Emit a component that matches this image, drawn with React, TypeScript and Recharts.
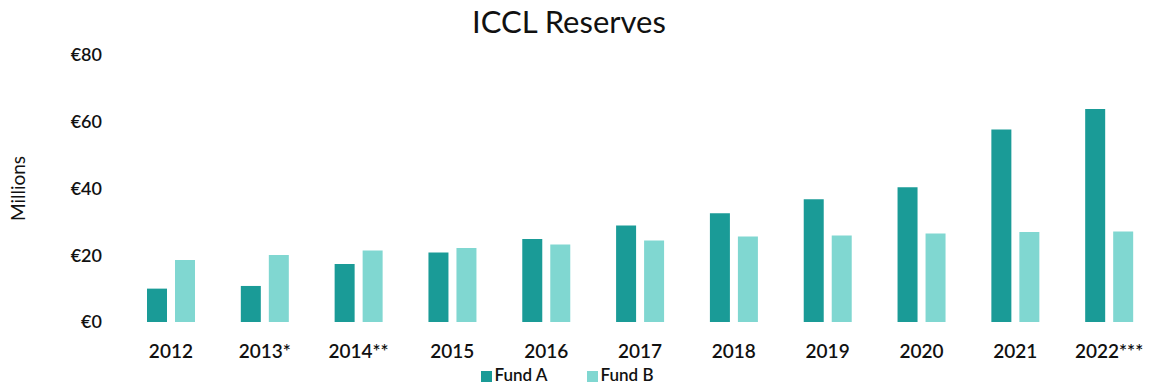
import { BarChart, Bar, XAxis, YAxis, Legend } from 'recharts';

const years = ['2012', '2013*', '2014**', '2015', '2016', '2017', '2018', '2019', '2020', '2021', '2022***'];
const fundA = [10, 10.8, 17.4, 20.8, 24.9, 28.9, 32.6, 36.8, 40.4, 57.7, 63.8];
const fundB = [18.6, 20.1, 21.4, 22.2, 23.2, 24.4, 25.6, 25.9, 26.5, 27, 27.1];
const yTicks = [0, 20, 40, 60, 80];

const COLOR_A = '#1a9b97';
const COLOR_B = '#80d7d1';
const TEXT = '#111';
const FONT = 'Lato, "Open Sans", sans-serif';

const data = years.map((year, i) => ({ year, fundA: fundA[i], fundB: fundB[i] }));

export default function App() {
  return (
    <div style={{ position: 'absolute', top: 0, left: 0, width: 1156, height: 387, background: '#fff', fontFamily: FONT }}>
      <div
        style={{
          position: 'absolute',
          top: 2,
          left: 0,
          width: 1138,
          textAlign: 'center',
          fontSize: 31,
          color: TEXT,
        }}
      >
        ICCL Reserves
      </div>
      <BarChart
        width={1156}
        height={387}
        data={data}
        margin={{ top: 55, right: 0, bottom: 2, left: 8 }}
        barSize={20}
        barGap={8}
      >
        <XAxis
          dataKey="year"
          axisLine={false}
          tickLine={false}
          tickMargin={17}
          height={42}
          interval={0}
          tick={{ fill: TEXT, fontSize: 19, fontWeight: 600, fontFamily: FONT }}
        />
        <YAxis
          domain={[0, 80]}
          ticks={yTicks}
          width={116}
          axisLine={false}
          tickLine={false}
          tickMargin={16}
          tickFormatter={(v: number) => `€${v}`}
          tick={{ fill: TEXT, fontSize: 18, fontWeight: 600, fontFamily: FONT }}
          label={{
            value: 'Millions',
            angle: -90,
            position: 'insideLeft',
            offset: 10,
            style: { textAnchor: 'middle', fill: TEXT, fontSize: 19, fontFamily: FONT },
          }}
        />
        <Legend
          verticalAlign="bottom"
          iconType="square"
          iconSize={11}
          wrapperStyle={{ fontSize: 17, fontWeight: 600, fontFamily: FONT, left: -2 }}
          formatter={(value: string) => (
            <span style={{ color: TEXT, marginLeft: -1, marginRight: value === 'Fund A' ? 29 : 0 }}>{value}</span>
          )}
        />
        <Bar dataKey="fundA" name="Fund A" fill={COLOR_A} isAnimationActive={false} />
        <Bar dataKey="fundB" name="Fund B" fill={COLOR_B} isAnimationActive={false} />
      </BarChart>
    </div>
  );
}
